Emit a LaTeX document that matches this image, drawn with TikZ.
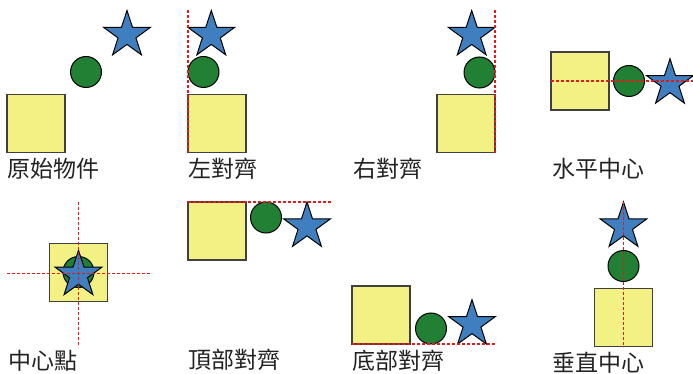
\documentclass[tikz,border=0pt]{standalone}
\usepackage{fontspec}
\usepackage{xcolor}
\usepackage{tikz}
\usetikzlibrary{shapes.geometric,positioning}
\newfontfamily\cjk{Noto Sans CJK TC}

\begin{document}
\begin{tikzpicture}[
  x=1pt, y=-1pt,
  sqbox/.style={rectangle, minimum size=58pt, inner sep=0pt,
    fill={rgb,255:red,243;green,240;blue,132},
    draw={rgb,255:red,64;green,64;blue,64}, line width=1.2pt},
  dot/.style={circle, minimum size=31pt, inner sep=0pt,
    fill={rgb,255:red,34;green,128;blue,53},
    draw=black, line width=1pt},
  starnode/.style={star, star points=5, star point ratio=2.6,
    minimum size=49pt, inner sep=0pt,
    fill={rgb,255:red,63;green,127;blue,191},
    draw=black, line width=1pt},
  guide/.style={dash pattern=on 3pt off 2pt, line width=1.5pt,
    color={rgb,255:red,222;green,28;blue,28}},
  lbl/.style={anchor=west, inner sep=0pt,
    font=\cjk\fontsize{23}{23}\selectfont,
    text={rgb,255:red,34;green,34;blue,34}},
]
  \useasboundingbox (0,0) rectangle (693,374);

  %% -- original objects ----------------------------------------
  \node[sqbox] (sqA) at (36,123.5) {};
  \node[dot] (dotA) at (86,72) {};
  \node[starnode] (starA) at (127,35) {};
  \node[lbl] (lblA) at (7,169) {原始物件};

  %% -- align left ----------------------------------------------
  \node[sqbox] (sqB) at (217,123.5) {};
  \node[dot] (dotB) at (203.5,72) {};
  \node[starnode] (starB) at (211.3,35) {};
  \node[lbl] (lblB) at (188,169) {左對齊};
  \coordinate (gB1) at (188,10);
  \coordinate (gB2) at (188,152);
  \draw[guide] (gB1) -- (gB2);

  %% -- align right ---------------------------------------------
  \node[sqbox] (sqC) at (466,123.5) {};
  \node[dot] (dotC) at (479.5,72.5) {};
  \node[starnode] (starC) at (471.7,35) {};
  \node[lbl] (lblC) at (353,169) {右對齊};
  \coordinate (gC1) at (495,10);
  \coordinate (gC2) at (495,153);
  \draw[guide] (gC1) -- (gC2);

  %% -- horizontal centre ---------------------------------------
  \node[sqbox] (sqD) at (580,81) {};
  \node[dot] (dotD) at (629,81) {};
  \node[starnode] (starD) at (670,83.3) {};
  \node[lbl] (lblD) at (552,169) {水平中心};
  \coordinate (gD1) at (551,81);
  \coordinate (gD2) at (693,81);
  \draw[guide] (gD1) -- (gD2);

  %% -- centre point --------------------------------------------
  \node[sqbox] (sqE) at (78.5,272.5) {};
  \node[dot] (dotE) at (78.5,272) {};
  \node[starnode] (starE) at (78.5,274.8) {};
  \node[lbl] (lblE) at (8,361) {中心點};
  \coordinate (gE1) at (78.5,202);
  \coordinate (gE2) at (78.5,345);
  \coordinate (gE3) at (7,273.5);
  \coordinate (gE4) at (151,273.5);
  \draw[guide] (gE1) -- (gE2);
  \draw[guide] (gE3) -- (gE4);

  %% -- align top -----------------------------------------------
  \node[sqbox] (sqF) at (217,231) {};
  \node[dot] (dotF) at (266,217.5) {};
  \node[starnode] (starF) at (307,226.5) {};
  \node[lbl] (lblF) at (188,360) {頂部對齊};
  \coordinate (gF1) at (188,202);
  \coordinate (gF2) at (331,202);
  \draw[guide] (gF1) -- (gF2);

  %% -- align bottom --------------------------------------------
  \node[sqbox] (sqG) at (381,315) {};
  \node[dot] (dotG) at (431,328.5) {};
  \node[starnode] (starG) at (472,324.2) {};
  \node[lbl] (lblG) at (352,361) {底部對齊};
  \coordinate (gG1) at (352,344);
  \coordinate (gG2) at (495,344);
  \draw[guide] (gG1) -- (gG2);

  %% -- vertical centre -----------------------------------------
  \node[sqbox] (sqH) at (623.5,317.5) {};
  \node[dot] (dotH) at (623.5,266) {};
  \node[starnode] (starH) at (623.5,226.5) {};
  \node[lbl] (lblH) at (552,363) {垂直中心};
  \coordinate (gH1) at (623.5,202);
  \coordinate (gH2) at (623.5,347);
  \draw[guide] (gH1) -- (gH2);

\end{tikzpicture}
\end{document}
